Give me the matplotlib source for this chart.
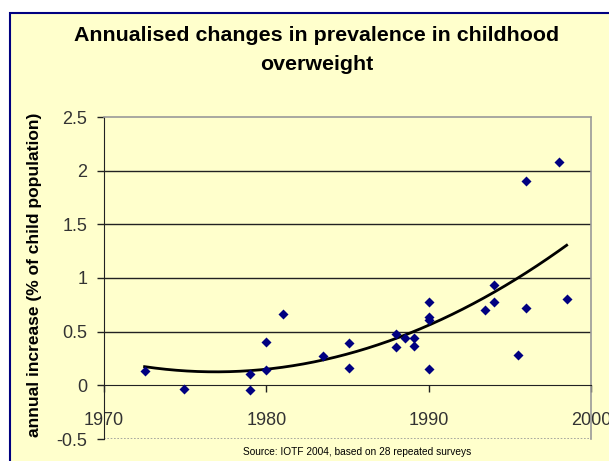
import numpy as np
import matplotlib
matplotlib.use("Agg")
import matplotlib.pyplot as plt
from matplotlib.patches import Rectangle

plt.rcParams["font.family"] = ["Liberation Sans", "DejaVu Sans"]

# survey year and annualised change in prevalence (% of child population)
years = [1972.5, 1974.9, 1979.0, 1979.0, 1980.0, 1980.0, 1981.0, 1983.5,
         1985.1, 1985.1, 1988.0, 1988.0, 1988.55, 1989.07, 1989.07,
         1990.0, 1990.0, 1990.0, 1990.0, 1993.5, 1994.0, 1994.0,
         1995.5, 1996.0, 1996.0, 1998.0, 1998.5]
changes = [0.13, -0.03, 0.11, -0.04, 0.40, 0.14, 0.66, 0.27,
           0.39, 0.165, 0.48, 0.36, 0.44, 0.445, 0.37,
           0.78, 0.64, 0.61, 0.155, 0.70, 0.935, 0.78,
           0.28, 0.725, 1.90, 2.08, 0.80]

x_ticks = [1970, 1980, 1990, 2000]
y_ticks = [-0.5, 0, 0.5, 1, 1.5, 2, 2.5]
y_tick_labels = ["-0.5", "0", "0.5", "1", "1.5", "2", "2.5"]

title = "Annualised changes in prevalence in childhood\noverweight"
y_label = "annual increase (% of child population)"
source = "Source: IOTF 2004, based on 28 repeated surveys"

W, H = 609, 461
fig = plt.figure(figsize=(W / 100, H / 100), dpi=100)
fig.patch.set_facecolor("white")

# yellow chart box with navy border
fig.patches.append(Rectangle((10 / W, -0.1), 1.2, (H - 13) / H + 0.1,
                             transform=fig.transFigure, facecolor="#FFFFCC",
                             edgecolor="#000080", linewidth=1.5, zorder=-10))

ax = fig.add_axes([104 / W, 1 - 439 / H, (591 - 104) / W, (439 - 117) / H])
ax.set_facecolor("#FFFFCC")

for yv in [0.5, 1, 1.5, 2]:
    ax.axhline(yv, color="#222222", linewidth=1.0, zorder=1)
ax.axhline(-0.5, color="#999999", linewidth=1.2, linestyle=(0, (1, 1)), zorder=1)

# second-order polynomial trend through the surveys
coef = np.polyfit(years, changes, 2)
xs = np.linspace(min(years), max(years), 200)
ax.plot(xs, np.polyval(coef, xs), color="black", linewidth=2, zorder=3)

ax.scatter(years, changes, marker="D", s=26, color="#000080", zorder=4,
           linewidths=0)

ax.set_xlim(1970, 2000)
ax.set_ylim(-0.5, 2.5)
ax.set_xticks(x_ticks)
ax.set_yticks(y_ticks)
ax.set_yticklabels(y_tick_labels)

ax.spines["bottom"].set_position(("data", 0))
ax.spines["bottom"].set_color("#222222")
ax.spines["left"].set_color("#222222")
for s in ["top", "right"]:
    ax.spines[s].set_color("#999999")
    ax.spines[s].set_linestyle((0, (1, 1)))
    ax.spines[s].set_linewidth(1.2)

ax.tick_params(axis="x", direction="out", length=5, width=1, pad=14,
               labelsize=13, labelcolor="#333333", color="#222222")
ax.tick_params(axis="y", direction="out", length=5, width=1, pad=7,
               labelsize=13, labelcolor="#333333", color="#222222")

fig.text(317 / W, 1 - 50 / H, title, ha="center", va="center",
         fontsize=15.4, fontweight="bold", linespacing=1.7)
fig.text(35 / W, 1 - 274.5 / H, y_label, rotation=90, ha="center",
         va="center", fontsize=12.5, fontweight="bold")
fig.text(243 / W, 1 - 452 / H, source, ha="left", va="center", fontsize=7.25)

fig.savefig("out.png", dpi=100)
